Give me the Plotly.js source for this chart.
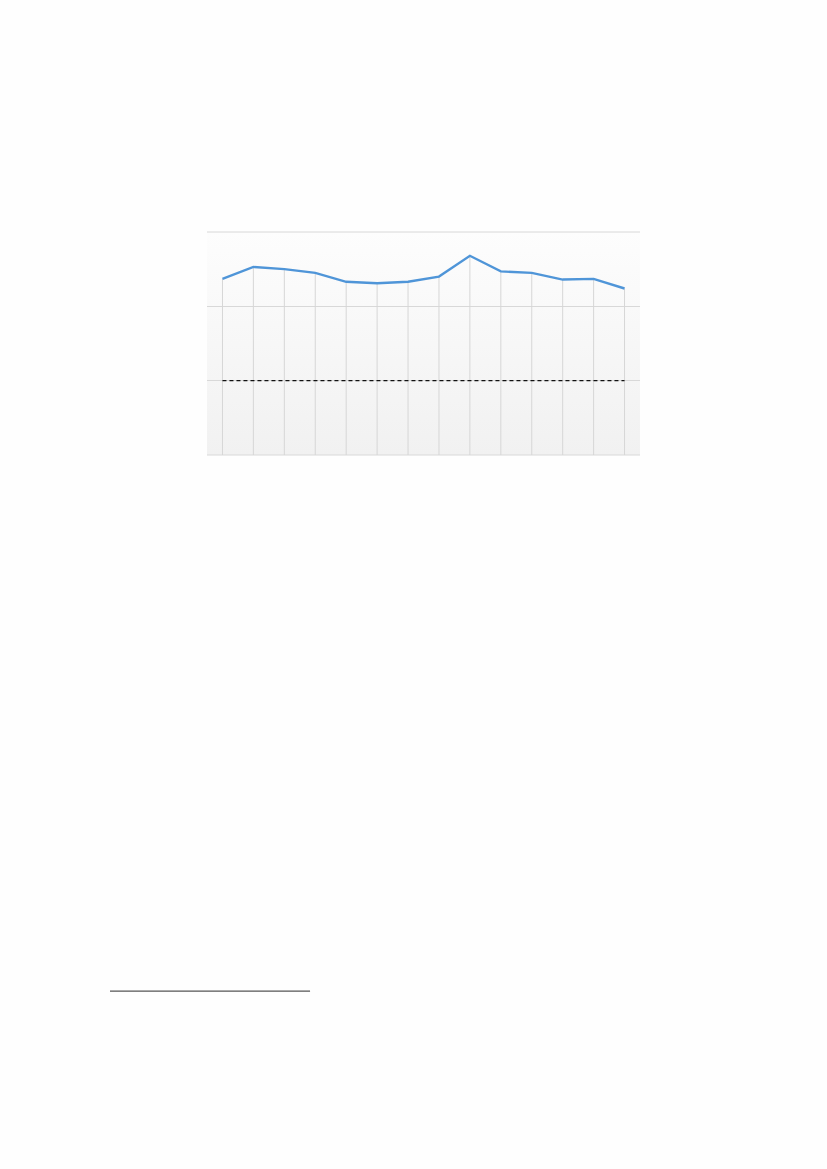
<!DOCTYPE html>
<html>
<head>
<meta charset="utf-8">
<script src="https://cdn.plot.ly/plotly-3.0.1.min.js"></script>
<style>
  html, body { margin: 0; padding: 0; background: #fefefe; }
  #chart { width: 827px; height: 1169px; }
</style>
</head>
<body>
<div id="chart"></div>
<script>
// data
var categories = [0, 1, 2, 3, 4, 5, 6, 7, 8, 9, 10, 11, 12, 13];
var values = [2.37, 2.53, 2.50, 2.45, 2.33, 2.31, 2.33, 2.40, 2.68, 2.47, 2.45, 2.36, 2.37, 2.24];
var refValue = 1;
var xRange = [-0.5, 13.5];
var yRange = [0, 3];

// soft vertical gradient for the plot background, drawn under the grid
var gradSvg = '<svg xmlns="http://www.w3.org/2000/svg" width="10" height="100" preserveAspectRatio="none">' +
    '<defs><linearGradient id="g" x1="0" y1="0" x2="0" y2="1">' +
    '<stop offset="0" stop-color="#fdfdfd"/><stop offset="1" stop-color="#f1f1f1"/>' +
    '</linearGradient></defs><rect width="10" height="100" fill="url(#g)"/></svg>';
var gradUri = 'data:image/svg+xml;base64,' + btoa(gradSvg);

// drop lines from each point down to the axis
var caidas = {
    x: categories,
    y: values,
    mode: 'none',
    error_y: {
        type: 'data',
        symmetric: false,
        array: values.map(function () { return 0; }),
        arrayminus: values,
        width: 0,
        thickness: 1,
        color: '#d6d6d6'
    },
    hoverinfo: 'skip',
    showlegend: false
};

var linea = {
    x: categories,
    y: values,
    mode: 'lines',
    line: { color: '#4f95d8', width: 2.4 },
    showlegend: false
};

var referencia = {
    x: categories,
    y: categories.map(function () { return refValue; }),
    mode: 'lines',
    line: { color: '#111111', width: 1.2, dash: '4px,3px' },
    showlegend: false
};

var layout = {
    width: 827,
    height: 1169,
    margin: { l: 207, r: 187, t: 232, b: 714 },
    paper_bgcolor: '#fefefe',
    plot_bgcolor: 'rgba(0,0,0,0)',
    xaxis: {
        range: xRange,
        showticklabels: false,
        showgrid: false,
        zeroline: false,
        showline: false,
        fixedrange: true
    },
    yaxis: {
        range: yRange,
        dtick: 1,
        showticklabels: false,
        showgrid: true,
        gridcolor: '#d8d8d8',
        gridwidth: 1,
        zeroline: false,
        showline: false,
        fixedrange: true
    },
    images: [
        {
            source: gradUri, xref: 'paper', yref: 'paper',
            x: 0, y: 1, sizex: 1, sizey: 1,
            xanchor: 'left', yanchor: 'top',
            sizing: 'stretch', layer: 'below'
        }
    ],
    shapes: [
        // top and bottom borders of the panel
        {
            type: 'line', xref: 'paper', yref: 'paper',
            x0: 0, x1: 1, y0: 1, y1: 1,
            line: { color: '#d8d8d8', width: 1 }, layer: 'below'
        },
        {
            type: 'line', xref: 'paper', yref: 'paper',
            x0: 0, x1: 1, y0: 0, y1: 0,
            line: { color: '#d8d8d8', width: 1 }, layer: 'below'
        },
        // footnote rule
        {
            type: 'line', xref: 'paper', yref: 'paper',
            x0: -0.224, x1: 0.238, y0: -2.404, y1: -2.404,
            line: { color: '#555555', width: 1.2 }
        }
    ]
};

Plotly.newPlot('chart', [caidas, linea, referencia], layout, { staticPlot: true });
</script>
</body>
</html>
